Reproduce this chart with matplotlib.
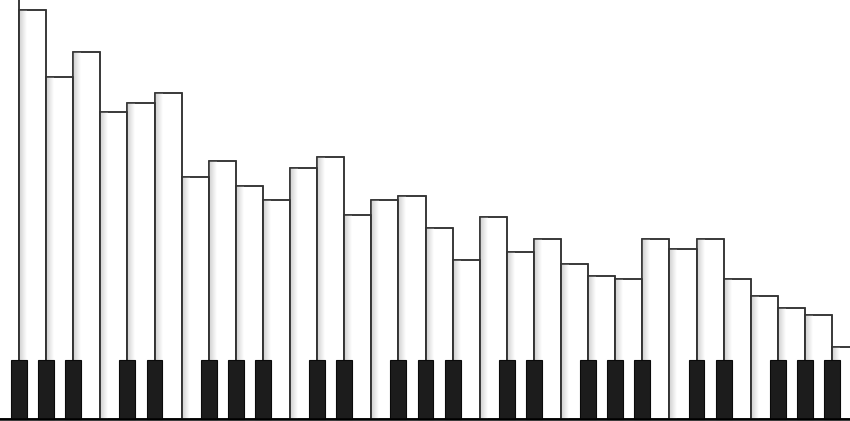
import numpy as np
import matplotlib.pyplot as plt
from matplotlib.colors import LinearSegmentedColormap

# white keys, left to right (the first one is cut off at the left edge)
white_notes = ['F', 'G', 'A', 'B', 'C', 'D', 'E',
               'F', 'G', 'A', 'B', 'C', 'D', 'E',
               'F', 'G', 'A', 'B', 'C', 'D', 'E',
               'F', 'G', 'A', 'B', 'C', 'D', 'E',
               'F', 'G', 'A', 'B']
white_values = [440, 409, 342, 367, 307, 316, 326,
                242, 258, 233, 219, 251, 262, 204,
                219, 223, 191, 159, 202, 167, 180,
                155, 143, 140, 180, 170, 180, 140,
                123, 111, 104, 72]
# notes that have a sharp (black key) on their right side
sharp_notes = ['C', 'D', 'F', 'G', 'A']

black_height = 59
black_width = 0.59

fig = plt.figure(figsize=(8.5, 4.21), dpi=100)
ax = fig.add_axes([0, 0, 1, 1])
ax.set_axis_off()

x = np.arange(len(white_notes)) - 1  # first key sits left of 0

ax.bar(x, white_values, width=1.0, align='edge', color='white',
       edgecolor='#333333', linewidth=1.1, zorder=1)

# soft shadow on the left side of every white key
shade = LinearSegmentedColormap.from_list('shade', ['#cfcfcf', '#ffffff'])
grad = np.linspace(0, 1, 64).reshape(1, -1)
for xi, h in zip(x, white_values):
    ax.imshow(grad, cmap=shade, aspect='auto', interpolation='bilinear',
              extent=[xi, xi + 0.28, 0, h], zorder=2)
# redraw outlines over the shading
ax.bar(x, white_values, width=1.0, align='edge', color='none',
       edgecolor='#333333', linewidth=1.1, zorder=3)

black_x = [xi + 1 for xi, n in zip(x, white_notes) if n in sharp_notes]
ax.bar(black_x, [black_height] * len(black_x), width=black_width,
       color='#1c1c1c', edgecolor='#0a0a0a', linewidth=0.8, zorder=4)

ax.axhline(0, color='black', linewidth=1.8, zorder=5)

ax.set_xlim(-19 / 27.1, (850 - 19) / 27.1)
ax.set_ylim(-2, 419)

fig.savefig('out.png', dpi=100)
